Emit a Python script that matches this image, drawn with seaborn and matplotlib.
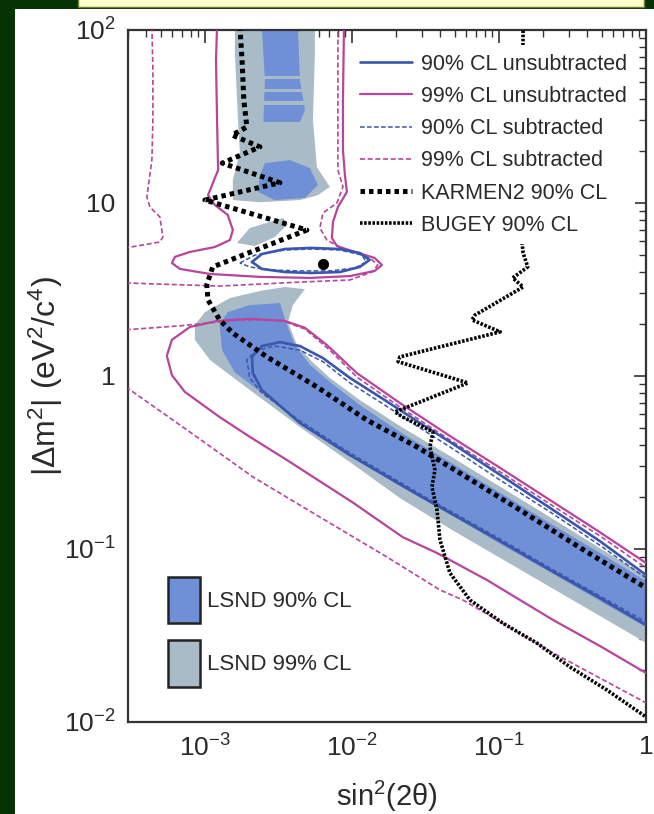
import numpy as np
import matplotlib
matplotlib.use("Agg")
import matplotlib.pyplot as plt
from matplotlib.lines import Line2D
from matplotlib.patches import Patch, Rectangle
from matplotlib.ticker import LogLocator, NullFormatter
import seaborn as sns

# ---------------- data: sin^2(2theta) and |dm^2| (eV^2/c^4) ----------------
# LSND 99% CL (light filled regions)
lsnd99_upper_s2 = [1.60e-3, 5.60e-3, 5.60e-3, 5.43e-3, 5.78e-3, 7.08e-3, 5.87e-3, 4.43e-3, 2.37e-3, 1.55e-3, 1.55e-3, 1.73e-3, 1.68e-3, 1.60e-3]
lsnd99_upper_dm2 = [105, 105, 73.6, 30.2, 16.1, 12.4, 11.1, 10.4, 10.1, 10.4, 13.6, 19.5, 30.2, 73.6]
lsnd99_blob_s2 = [1.65e-3, 2.02e-3, 3.40e-3, 3.67e-3, 2.99e-3, 2.19e-3]
lsnd99_blob_dm2 = [5.87, 7.17, 8.19, 7.56, 6.36, 5.64]
lsnd99_lower_s2 = [4.79e-3, 3.97e-3, 3.67e-3, 4.23e-3, 5.35e-3, 7.08e-3, 1.13e-2, 2.12e-2, 4.64e-2, 0.102, 0.222, 0.486, 1.05,
                   1.05, 0.486, 0.222, 0.102, 4.64e-2, 2.12e-2, 9.69e-3, 4.43e-3, 2.02e-3, 1.08e-3, 8.55e-4, 8.55e-4, 1.0e-3, 1.48e-3, 2.37e-3, 3.50e-3]
lsnd99_lower_dm2 = [3.18, 2.57, 2.05, 1.51, 1.21, 0.975, 0.727, 0.514, 0.345, 0.229, 0.153, 0.101, 0.0680,
                    0.0280, 0.0410, 0.0604, 0.0887, 0.131, 0.197, 0.318, 0.507, 0.830, 1.24, 1.62, 1.97, 2.34, 2.82, 3.10, 3.27]

# LSND 90% CL (darker filled regions)
lsnd90_upper_s2 = [2.44e-3, 4.29e-3, 4.43e-3, 4.79e-3, 4.43e-3, 2.50e-3, 2.56e-3]
lsnd90_upper_dm2 = [105, 105, 51.4, 34.5, 29.4, 29.4, 51.4]
lsnd90_gap_s2 = [2.3e-3, 5.0e-3]
lsnd90_gap_lo = [52.1, 43.8, 36.8]
lsnd90_gap_hi = [54.2, 45.6, 38.9]
lsnd90_blob_s2 = [2.37e-3, 2.56e-3, 3.79e-3, 5.18e-3, 5.87e-3, 4.79e-3, 2.99e-3, 2.30e-3]
lsnd90_blob_dm2 = [14.5, 17.0, 17.7, 15.9, 12.7, 10.7, 10.4, 11.6]
lsnd90_lower_s2 = [3.24e-3, 3.56e-3, 4.09e-3, 5.18e-3, 7.08e-3, 1.13e-2, 2.12e-2, 4.64e-2, 0.102, 0.222, 0.486, 1.05,
                   1.05, 0.486, 0.222, 0.102, 4.64e-2, 2.12e-2, 9.69e-3, 4.43e-3, 2.44e-3, 1.60e-3, 1.31e-3, 1.26e-3, 1.43e-3, 2.02e-3]
lsnd90_lower_dm2 = [2.64, 2.05, 1.51, 1.16, 0.923, 0.680, 0.475, 0.318, 0.211, 0.141, 0.0948, 0.0635,
                    0.0345, 0.0501, 0.0737, 0.107, 0.159, 0.231, 0.345, 0.535, 0.798, 1.05, 1.41, 1.97, 2.34, 2.57]

# 90% CL unsubtracted (solid blue)
unsub90_ellipse_s2 = [2.09e-3, 2.44e-3, 3.50e-3, 5.26e-3, 8.28e-3, 1.13e-2, 1.32e-2, 1.13e-2, 8.28e-3, 5.26e-3, 3.50e-3, 2.44e-3, 2.09e-3]
unsub90_ellipse_dm2 = [4.56, 5.07, 5.42, 5.50, 5.42, 5.14, 4.69, 4.27, 3.99, 3.94, 3.99, 4.16, 4.56]
unsub90_band_s2 = [1.0, 0.486, 0.222, 0.102, 0.0464, 0.029, 0.0163, 9.69e-3, 6.35e-3, 4.43e-3, 3.24e-3, 2.44e-3, 2.09e-3, 2.12e-3, 2.44e-3,
                   4.43e-3, 9.69e-3, 0.029, 0.102, 0.222, 0.486, 1.0]
unsub90_band_dm2 = [0.0708, 0.111, 0.173, 0.268, 0.416, 0.535, 0.736, 0.975, 1.27, 1.49, 1.57, 1.49, 1.29, 1.04, 0.830,
                    0.535, 0.349, 0.203, 0.111, 0.0757, 0.0521, 0.0364]

# 90% CL subtracted (dashed blue)
sub90_ellipse_s2 = [1.73e-3, 2.19e-3, 3.50e-3, 5.26e-3, 8.28e-3, 1.17e-2, 1.25e-2, 1.05e-2, 7.08e-3, 4.43e-3, 2.77e-3, 2.02e-3, 1.73e-3]
sub90_ellipse_dm2 = [4.50, 5.00, 5.35, 5.42, 5.35, 5.00, 4.56, 4.21, 4.05, 4.05, 4.10, 4.27, 4.50]
sub90_band_s2 = [1.0, 0.486, 0.222, 0.102, 0.0464, 0.029, 0.0163, 9.69e-3, 6.35e-3, 4.43e-3, 2.99e-3, 2.26e-3, 1.93e-3, 2.02e-3, 2.44e-3,
                 4.43e-3, 9.69e-3, 0.029, 0.102, 0.222, 0.486, 1.0]
sub90_band_dm2 = [0.0680, 0.105, 0.164, 0.250, 0.389, 0.501, 0.689, 0.912, 1.21, 1.41, 1.49, 1.41, 1.24, 0.975, 0.798,
                  0.550, 0.359, 0.208, 0.114, 0.0777, 0.0535, 0.0379]

# 99% CL unsubtracted (solid magenta)
unsub99_upper_s2 = [1.21e-3, 1.19e-3, 1.21e-3, 1.23e-3, 1.05e-3, 1.17e-3, 1.43e-3, 1.55e-3, 1.48e-3, 1.17e-3, 7.9e-4, 6.25e-4, 5.97e-4,
                    6.76e-4, 1.08e-3, 2.37e-3, 5.18e-3, 9.69e-3, 1.43e-2, 1.60e-2, 1.43e-2, 1.05e-2, 7.91e-3, 7.31e-3, 7.43e-3,
                    8.03e-3, 9.25e-3, 8.96e-3, 8.69e-3, 8.69e-3, 8.83e-3]
unsub99_upper_dm2 = [105, 67.1, 30.2, 15.5, 11.1, 9.73, 8.53, 6.98, 6.11, 5.57, 5.21, 4.88, 4.50,
                     4.16, 3.89, 3.74, 3.69, 3.78, 4.05, 4.38, 4.81, 5.21, 5.64, 6.28, 7.77,
                     9.48, 11.6, 14.5, 20.2, 39.4, 105]
unsub99_band_s2 = [1.0, 0.486, 0.222, 0.102, 0.0464, 0.0212, 0.0108, 6.76e-3, 4.79e-3, 3.50e-3, 2.02e-3, 1.21e-3, 7.91e-4, 5.97e-4,
                   5.51e-4, 5.97e-4, 7.31e-4, 1.26e-3, 2.02e-3, 3.61e-3, 0.0102, 0.0222, 0.0379, 0.0828, 0.233, 0.486, 1.0]
unsub99_band_dm2 = [0.083, 0.125, 0.192, 0.294, 0.450, 0.698, 1.04, 1.51, 1.90, 2.08, 2.14, 2.08, 1.92, 1.62,
                    1.31, 1.01, 0.809, 0.579, 0.445, 0.327, 0.185, 0.117, 0.0948, 0.0662, 0.0389, 0.0275, 0.0192]

# 99% CL subtracted (dashed magenta)
sub99_left_s2 = [4.36e-4, 4.43e-4, 4.43e-4, 4.36e-4, 4.03e-4, 4.23e-4, 4.94e-4, 5.18e-4, 4.94e-4, 2.9e-4]
sub99_left_dm2 = [105, 58.8, 30.2, 17.7, 10.8, 9.48, 8.30, 6.36, 5.95, 5.50]
sub99_upper_s2 = [2.9e-4, 1.26e-3, 4.43e-3, 9.69e-3, 1.37e-2, 1.50e-2, 1.28e-2, 8.96e-3, 6.76e-3, 6.05e-3, 6.35e-3, 7.91e-3,
                  8.69e-3, 8.03e-3, 8.03e-3, 8.03e-3]
sub99_upper_dm2 = [3.45, 3.31, 3.49, 3.59, 3.99, 4.38, 4.94, 5.35, 6.11, 7.17, 8.75, 10.0, 12.4, 15.5, 30.2, 105]
sub99_band_top_s2 = [2.9e-4, 6.76e-4, 1.73e-3, 3.24e-3, 4.79e-3, 7.08e-3, 0.0108, 0.0212, 0.0464, 0.102, 0.222, 0.486, 1.0]
sub99_band_top_dm2 = [1.85, 1.95, 2.11, 2.11, 1.87, 1.41, 0.986, 0.662, 0.427, 0.279, 0.182, 0.119, 0.0777]
sub99_band_bot_s2 = [2.9e-4, 7.55e-4, 2.12e-3, 6.05e-3, 0.0173, 0.0397, 0.0569, 0.233, 1.0]
sub99_band_bot_dm2 = [0.865, 0.488, 0.261, 0.153, 0.0899, 0.0580, 0.0507, 0.0251, 0.0129]

# KARMEN2 90% CL
karmen_s2 = [1.73e-3, 1.79e-3, 1.84e-3, 1.93e-3, 1.53e-3, 2.37e-3, 1.31e-3, 3.24e-3, 1.0e-3, 4.94e-3, 1.13e-3, 1.03e-3,
             1.05e-3, 1.26e-3, 1.55e-3, 2.64e-3, 5.78e-3, 1.26e-2, 2.77e-2, 4.64e-2, 0.139, 0.397, 1.0]
karmen_dm2 = [105, 67.1, 39.4, 27.5, 24.7, 21.1, 17.0, 13.1, 10.4, 6.98, 4.27, 3.36,
              2.75, 2.11, 1.77, 1.29, 0.865, 0.557, 0.389, 0.298, 0.168, 0.0961, 0.0596]

# BUGEY 90% CL
bugey_s2 = [0.146, 0.143, 0.146, 0.157, 0.124, 0.146, 0.0687, 0.0655, 0.102, 0.0212, 0.0206, 0.0615, 0.0196, 0.0222,
            0.0356, 0.0339, 0.0367, 0.0350, 0.0379, 0.0397, 0.0464, 0.0635, 0.106, 0.181, 0.304, 0.543, 1.0]
bugey_dm2 = [105, 6.11, 5.14, 4.27, 3.69, 3.27, 2.25, 2.11, 1.80, 1.29, 1.21, 0.912, 0.620, 0.579,
             0.475, 0.389, 0.286, 0.229, 0.168, 0.113, 0.0727, 0.0507, 0.0373, 0.0286, 0.0208, 0.0153, 0.0107]

# best-fit point
best_s2 = [6.35e-3]
best_dm2 = [4.44]

# text
x_ticks = [1e-3, 1e-2, 1e-1, 1]
x_ticklabels = [r"$10^{-3}$", r"$10^{-2}$", r"$10^{-1}$", "1"]
y_ticks = [1e-2, 1e-1, 1, 10, 100]
y_ticklabels = [r"$10^{-2}$", r"$10^{-1}$", "1", "10", r"$10^{2}$"]
line_labels = ["90% CL unsubtracted", "99% CL unsubtracted", "90% CL subtracted",
               "99% CL subtracted", "KARMEN2 90% CL", "BUGEY 90% CL"]
fill_labels = ["LSND 90% CL", "LSND 99% CL"]

# ---------------- style ----------------
sns.set_theme(style="white")
plt.rcParams["font.family"] = ["Liberation Sans", "DejaVu Sans"]
plt.rcParams["mathtext.fontset"] = "custom"
plt.rcParams["mathtext.rm"] = "Liberation Sans"
plt.rcParams["mathtext.it"] = "Liberation Sans:italic"
plt.rcParams["mathtext.bf"] = "Liberation Sans:bold"

BLUE_FILL = "#6f8fd6"
GRAY_FILL = "#a8bbc7"
BLUE_LINE = "#3a56ad"
PINK_LINE = "#b8449b"
TXT = "#2a2a2a"
DASH = (0, (3.0, 1.6))
KDOT = (0, (0.9, 0.8))
BDOT = (0, (0.7, 0.45))

fig = plt.figure(figsize=(6.54, 8.14), dpi=100)
fig.patch.set_facecolor("#063306")
fig.patches.append(Rectangle((15 / 654, 0), 1, 805 / 814, transform=fig.transFigure,
                             facecolor="white", edgecolor="none", zorder=-10))
fig.patches.append(Rectangle((78 / 654, 1 - 7 / 814), 566 / 654, 0.02, transform=fig.transFigure,
                             facecolor="#ffffcc", edgecolor="#6b7f2a", lw=1.0, zorder=-9))

ax = fig.add_axes([128 / 654, 1 - 722 / 814, 518 / 654, 692 / 814])
ax.set_facecolor("white")
ax.set_xscale("log")
ax.set_yscale("log")

# filled LSND regions
for s, d in [(lsnd99_upper_s2, lsnd99_upper_dm2), (lsnd99_blob_s2, lsnd99_blob_dm2), (lsnd99_lower_s2, lsnd99_lower_dm2)]:
    ax.fill(s, d, color=GRAY_FILL, lw=0, zorder=1)
for s, d in [(lsnd90_upper_s2, lsnd90_upper_dm2), (lsnd90_blob_s2, lsnd90_blob_dm2), (lsnd90_lower_s2, lsnd90_lower_dm2)]:
    ax.fill(s, d, color=BLUE_FILL, lw=0, zorder=2)
for lo, hi in zip(lsnd90_gap_lo, lsnd90_gap_hi):
    ax.fill_between(lsnd90_gap_s2, lo, hi, color=GRAY_FILL, lw=0, zorder=2.5)


def curve(s, d, **kw):
    sns.lineplot(x=s, y=d, sort=False, estimator=None, ax=ax, legend=False, **kw)


# 99% CL lines
curve(unsub99_upper_s2, unsub99_upper_dm2, color=PINK_LINE, lw=1.6, zorder=4)
curve(unsub99_band_s2, unsub99_band_dm2, color=PINK_LINE, lw=1.6, zorder=4)
for s, d in [(sub99_left_s2, sub99_left_dm2), (sub99_upper_s2, sub99_upper_dm2),
             (sub99_band_top_s2, sub99_band_top_dm2), (sub99_band_bot_s2, sub99_band_bot_dm2)]:
    curve(s, d, color=PINK_LINE, lw=1.2, linestyle=DASH, zorder=4)

# 90% CL lines
curve(unsub90_ellipse_s2, unsub90_ellipse_dm2, color=BLUE_LINE, lw=1.9, zorder=5)
curve(unsub90_band_s2, unsub90_band_dm2, color=BLUE_LINE, lw=1.9, zorder=5)
curve(sub90_ellipse_s2, sub90_ellipse_dm2, color=BLUE_LINE, lw=1.1, linestyle=DASH, zorder=5)
curve(sub90_band_s2, sub90_band_dm2, color=BLUE_LINE, lw=1.1, linestyle=DASH, zorder=5)

# exclusion curves
curve(karmen_s2, karmen_dm2, color="black", lw=3.6, linestyle=KDOT, dash_capstyle="butt", zorder=6)
curve(bugey_s2, bugey_dm2, color="black", lw=2.6, linestyle=BDOT, dash_capstyle="butt", zorder=6)
sns.scatterplot(x=best_s2, y=best_dm2, ax=ax, color="black", s=55, marker="o", edgecolor="black", zorder=7, legend=False)

# axes
ax.set_xlim(3e-4, 1)
ax.set_ylim(1e-2, 1e2)
ax.set_xticks(x_ticks)
ax.set_xticklabels(x_ticklabels)
ax.set_yticks(y_ticks)
ax.set_yticklabels(y_ticklabels)
ax.xaxis.set_minor_locator(LogLocator(base=10, subs=np.arange(2, 10), numticks=20))
ax.yaxis.set_minor_locator(LogLocator(base=10, subs=np.arange(2, 10), numticks=20))
ax.xaxis.set_minor_formatter(NullFormatter())
ax.yaxis.set_minor_formatter(NullFormatter())
ax.tick_params(which="both", direction="in", top=True, right=True, colors="#333333", labelcolor=TXT)
ax.tick_params(which="major", length=9, width=1.2, labelsize=19, pad=9)
ax.tick_params(which="minor", length=5, width=1.0)
for sp in ax.spines.values():
    sp.set_color("#333333")
    sp.set_linewidth(1.6)

ax.set_xlabel(r"sin$^2$(2θ)", fontsize=21, color=TXT)
ax.set_ylabel(r"|Δm$^2$| (eV$^2$/c$^4$)", fontsize=23, color=TXT)
ax.xaxis.set_label_coords(0.5, -0.082)
ax.yaxis.set_label_coords(-0.122, 0.5)

# legends
line_handles = [
    Line2D([], [], color=BLUE_LINE, lw=1.9),
    Line2D([], [], color=PINK_LINE, lw=1.6),
    Line2D([], [], color=BLUE_LINE, lw=1.1, linestyle=DASH),
    Line2D([], [], color=PINK_LINE, lw=1.2, linestyle=DASH),
    Line2D([], [], color="black", lw=3.6, linestyle=KDOT, dash_capstyle="butt"),
    Line2D([], [], color="black", lw=2.6, linestyle=BDOT, dash_capstyle="butt"),
]
leg1 = ax.legend(line_handles, line_labels, loc="upper left", bbox_to_anchor=(0.432, 0.978),
                 fontsize=15.5, frameon=True, facecolor="white", edgecolor="none", framealpha=1,
                 fancybox=False, borderpad=0.4, borderaxespad=0, handlelength=2.4, handletextpad=0.4,
                 labelspacing=0.52, labelcolor=TXT)
leg1.set_zorder(8)
ax.add_artist(leg1)

fill_handles = [Patch(facecolor=BLUE_FILL, edgecolor="#222222", lw=1.8),
                Patch(facecolor=GRAY_FILL, edgecolor="#222222", lw=1.8)]
leg2 = ax.legend(fill_handles, fill_labels, loc="upper left", bbox_to_anchor=(0.077, 0.210),
                 fontsize=16, frameon=False, borderpad=0, borderaxespad=0, handlelength=1.45,
                 handleheight=2.84, handletextpad=0.3, labelspacing=0.78, labelcolor=TXT)
leg2.set_zorder(8)

fig.savefig("out.png", dpi=100, facecolor=fig.get_facecolor())
